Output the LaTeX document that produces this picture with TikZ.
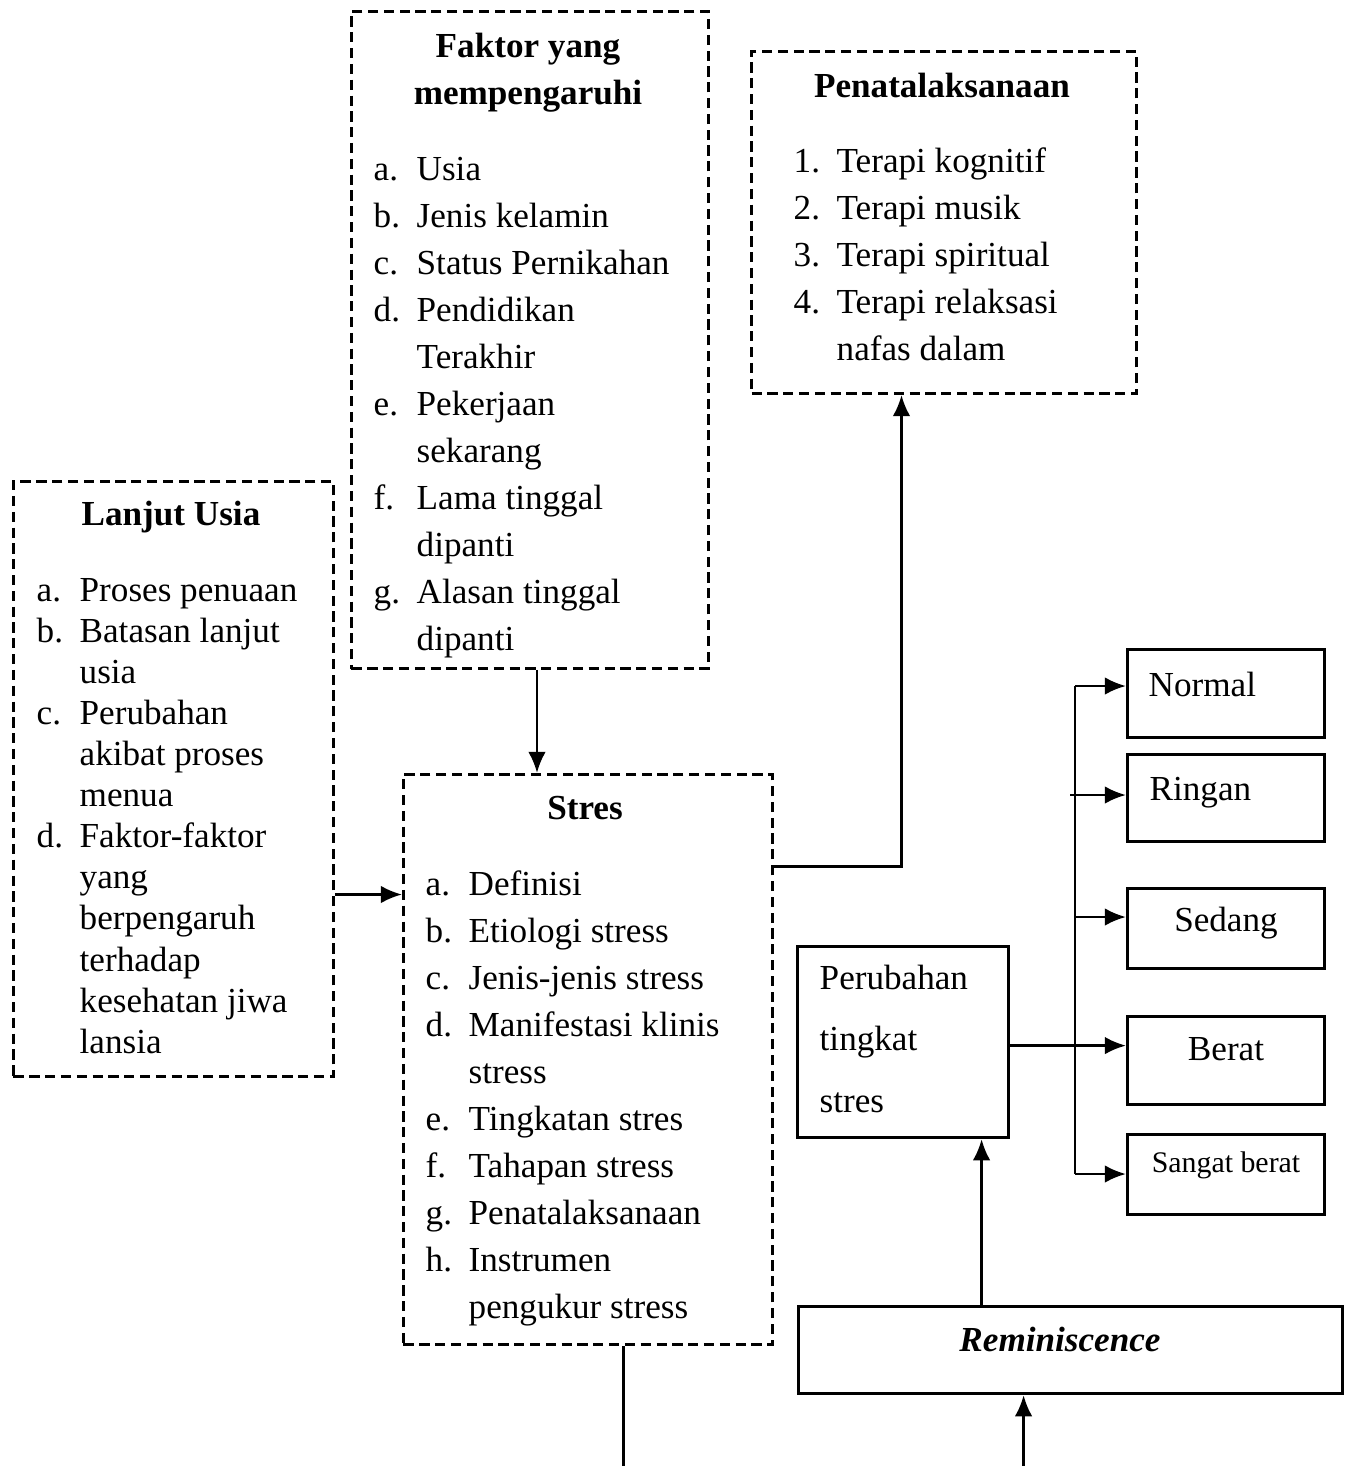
\documentclass[tikz,border=0pt]{standalone}
\usepackage{fontspec}
\setmainfont{Liberation Serif}
\usetikzlibrary{positioning,arrows.meta}

\newcommand{\txt}{\fontsize{10}{13.4}\selectfont}
\newcommand{\txtsm}{\fontsize{10}{11.7}\selectfont}

\tikzset{
  dbox/.style={draw, line width=0.85pt, dash pattern=on 2.9pt off 1.6pt, anchor=north west, inner sep=0pt},
  sbox/.style={draw, line width=0.9pt, anchor=north west, inner sep=0pt},
  head/.style={font=\txt\bfseries, anchor=base, inner sep=0pt},
  items/.style={font=\txt, anchor=base west, inner sep=0pt},
  conn/.style={line width=0.8pt, ->},
}

\begin{document}
\begin{tikzpicture}[>={Latex[length=6pt,width=5pt]}]
  \useasboundingbox (0,0) rectangle (13.44,-14.66);

  % kotak-kotak
  \node[dbox, minimum width=3.57cm, minimum height=6.57cm] (faktor) at (3.50,-0.10) {};
  \node[dbox, minimum width=3.85cm, minimum height=3.42cm] (pena) at (7.50,-0.50) {};
  \node[dbox, minimum width=3.20cm, minimum height=5.95cm] (lansia) at (0.12,-4.80) {};
  \node[dbox, minimum width=3.69cm, minimum height=5.70cm] (stres) at (4.02,-7.73) {};
  \node[sbox, minimum width=2.11cm, minimum height=1.91cm] (ubah) at (7.96,-9.45) {};
  \node[sbox, minimum width=5.44cm, minimum height=0.87cm] (remi) at (7.97,-13.05) {};
  \node[sbox, minimum width=1.97cm, minimum height=0.88cm] (normal) at (11.26,-6.48) {};
  \node[sbox, minimum width=1.97cm, minimum height=0.87cm] (ringan) at (11.26,-7.53) {};
  \node[sbox, minimum width=1.97cm, minimum height=0.80cm] (sedang) at (11.26,-8.87) {};
  \node[sbox, minimum width=1.97cm, minimum height=0.88cm] (berat) at (11.26,-10.15) {};
  \node[sbox, minimum width=1.97cm, minimum height=0.80cm] (sangat) at (11.26,-11.33) {};

  % isi teks
  \node[head] (faktorhead) at (5.28,-0.57) {\begin{tabular}[t]{@{}c@{}}Faktor yang\\mempengaruhi\end{tabular}};
  \node[items] (faktorlist) at (3.73,-1.80) {\begin{tabular}[t]{@{}p{0.43cm}@{}l@{}}
    a. & Usia\\
    b. & Jenis kelamin\\
    c. & Status Pernikahan\\
    d. & Pendidikan\\
       & Terakhir\\
    e. & Pekerjaan\\
       & sekarang\\
    f. & Lama tinggal\\
       & dipanti\\
    g. & Alasan tinggal\\
       & dipanti
  \end{tabular}};

  \node[head] (penahead) at (9.42,-0.97) {\begin{tabular}[t]{@{}c@{}}Penatalaksanaan\end{tabular}};
  \node[items] (penalist) at (7.93,-1.72) {\begin{tabular}[t]{@{}p{0.43cm}@{}l@{}}
    1. & Terapi kognitif\\
    2. & Terapi musik\\
    3. & Terapi spiritual\\
    4. & Terapi relaksasi\\
       & nafas dalam
  \end{tabular}};

  \node[head] (lansiahead) at (1.71,-5.25) {\begin{tabular}[t]{@{}c@{}}Lanjut Usia\end{tabular}};
  \node[items, font=\txtsm] (lansialist) at (0.36,-6.01) {\begin{tabular}[t]{@{}p{0.43cm}@{}l@{}}
    a. & Proses penuaan\\
    b. & Batasan lanjut\\
       & usia\\
    c. & Perubahan\\
       & akibat proses\\
       & menua\\
    d. & Faktor-faktor\\
       & yang\\
       & berpengaruh\\
       & terhadap\\
       & kesehatan jiwa\\
       & lansia
  \end{tabular}};

  \node[head] (streshead) at (5.85,-8.19) {\begin{tabular}[t]{@{}c@{}}Stres\end{tabular}};
  \node[items] (streslist) at (4.25,-8.95) {\begin{tabular}[t]{@{}p{0.43cm}@{}l@{}}
    a. & Definisi\\
    b. & Etiologi stress\\
    c. & Jenis-jenis stress\\
    d. & Manifestasi klinis\\
       & stress\\
    e. & Tingkatan stres\\
    f. & Tahapan stress\\
    g. & Penatalaksanaan\\
    h. & Instrumen\\
       & pengukur stress
  \end{tabular}};

  \node[items, font=\fontsize{10}{17.6}\selectfont] (ubahtxt) at (8.19,-9.89) {\begin{tabular}[t]{@{}l@{}}Perubahan\\tingkat\\stres\end{tabular}};
  \node[head, font=\txt\bfseries\itshape] (remitxt) at (10.60,-13.51) {Reminiscence};

  \node[items] (normaltxt) at (11.48,-6.96) {Normal};
  \node[items] (ringantxt) at (11.49,-8.00) {Ringan};
  \node[head, font=\txt] (sedangtxt) at (12.26,-9.31) {Sedang};
  \node[head, font=\txt] (berattxt) at (12.26,-10.60) {Berat};
  \node[head, font=\fontsize{8.5}{10}\selectfont] (sangattxt) at (12.26,-11.72) {Sangat berat};

  % panah
  \coordinate (fkout) at ([xshift=0.07cm]faktor.south);
  \draw[conn] (fkout) -- (fkout |- stres.north);

  \coordinate (lsout) at ([yshift=-1.155cm]lansia.east);
  \draw[conn] (lsout) -- (lsout -| stres.west);

  \coordinate (stout) at ([yshift=1.93cm]stres.east);
  \coordinate (pnin) at ([xshift=-0.425cm]pena.south);
  \draw[conn] (stout) -| (pnin);

  \coordinate (rmup) at ([xshift=0.785cm]ubah.south);
  \draw[conn] (rmup |- remi.north) -- (rmup);

  \coordinate (ubout) at ([yshift=-0.035cm]ubah.east);
  \draw[conn] (ubout) -- (ubout -| berat.west);

  \coordinate (b1) at (10.75,-6.86);
  \coordinate (b2) at (10.70,-7.95);
  \coordinate (b3) at (10.75,-9.17);
  \coordinate (b5) at (10.75,-11.74);
  \draw[line width=0.8pt] (b1) -- (b5);
  \draw[conn] (b1) -- (b1 -| normal.west);
  \draw[conn] (b2) -- (b2 -| ringan.west);
  \draw[conn] (b3) -- (b3 -| sedang.west);
  \draw[conn] (b5) -- (b5 -| sangat.west);

  \coordinate (edge) at (0,-14.66);
  \coordinate (stdown) at ([xshift=0.355cm]stres.south);
  \draw[line width=0.8pt] (stdown) -- (stdown |- edge);
  \coordinate (rmin) at ([xshift=-0.47cm]remi.south);
  \draw[conn] (rmin |- edge) -- (rmin);
\end{tikzpicture}
\end{document}
